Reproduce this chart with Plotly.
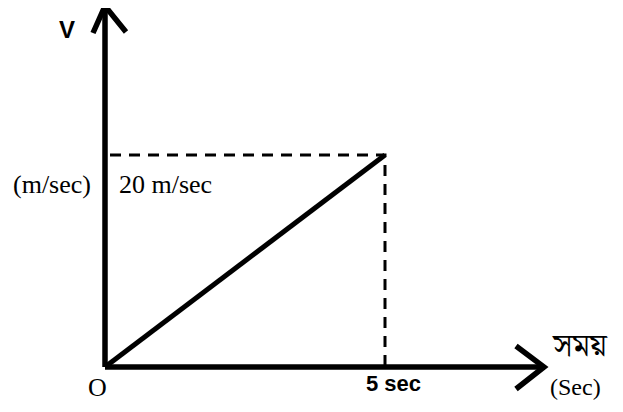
import plotly.graph_objects as go

# data (seconds, m/sec)
time_s = [0, 5]
velocity = [0, 20]
t_max = 5
v_max = 20
x_tick_label = "5 sec"
y_tick_label = "20 m/sec"

# page offset (default body margin) compensation
OFF = 8
W, H = 623 - OFF, 412 - OFF
# page pixel mapping: x=0 -> 105 px, x=5 -> 385 px ; y=0 -> 367 px, y=20 -> 155 px
sx = (385 - 105) / 5.0
sy = (367 - 155) / 20.0
x0 = (OFF - 105) / sx
x1 = (623 - 105) / sx
y1 = (367 - OFF) / sy
y0 = (367 - 412) / sy

def px_x(p):
    return (p - 105) / sx

def px_y(p):
    return (367 - p) / sy

fig = go.Figure()
blk = "black"
AW = 5.5

# x axis
fig.add_trace(go.Scatter(x=[0, px_x(544)], y=[0, 0], mode="lines",
                         line=dict(color=blk, width=AW), hoverinfo="skip"))
fig.add_trace(go.Scatter(x=[px_x(516), px_x(544), px_x(516)],
                         y=[px_y(346), 0, px_y(389)], mode="lines",
                         line=dict(color=blk, width=AW), hoverinfo="skip"))
# y axis
fig.add_trace(go.Scatter(x=[0, 0], y=[0, px_y(8)], mode="lines",
                         line=dict(color=blk, width=AW), hoverinfo="skip"))
fig.add_trace(go.Scatter(x=[px_x(93), px_x(105), px_x(126)],
                         y=[px_y(33), px_y(6), px_y(32)], mode="lines",
                         line=dict(color=blk, width=AW), hoverinfo="skip"))
# dashed guides
fig.add_trace(go.Scatter(x=[px_x(110), t_max, t_max], y=[v_max, v_max, 0], mode="lines",
                         line=dict(color=blk, width=3, dash="11px,8px"), hoverinfo="skip"))
# data line
fig.add_trace(go.Scatter(x=time_s, y=velocity, mode="lines",
                         line=dict(color=blk, width=5), hoverinfo="skip"))

serif = "Liberation Serif, Times New Roman, serif"
sans = "Liberation Sans, Arial, sans-serif"
def txt(x, y, s, size=18, fam=serif, yanchor="middle"):
    fig.add_annotation(x=x, y=y, text=s, showarrow=False, xref="x", yref="y",
                       yanchor=yanchor, borderpad=0,
                       font=dict(family=fam, size=size, color="black"))

txt(px_x(67), px_y(29), "<b>V</b>", size=24, fam=sans)
txt(px_x(52), px_y(184), "(m/sec)", size=26)
txt(px_x(165), px_y(184), y_tick_label, size=26)
txt(px_x(97), px_y(387), "O", size=26)
txt(px_x(393), px_y(383), "<b>" + x_tick_label + "</b>", size=22, fam=sans)
txt(px_x(580), px_y(373), "সময়", size=32,
    fam="Noto Serif Bengali, Noto Sans Bengali, Lohit Bengali, serif", yanchor="bottom")
txt(px_x(575), px_y(373), "(Sec)", size=24, yanchor="top")

fig.update_layout(width=W, height=H, margin=dict(l=0, r=0, t=0, b=0),
                  paper_bgcolor="white", plot_bgcolor="white", showlegend=False,
                  xaxis=dict(range=[x0, x1], visible=False, fixedrange=True),
                  yaxis=dict(range=[y0, y1], visible=False, fixedrange=True))
fig.write_html("out.html")
